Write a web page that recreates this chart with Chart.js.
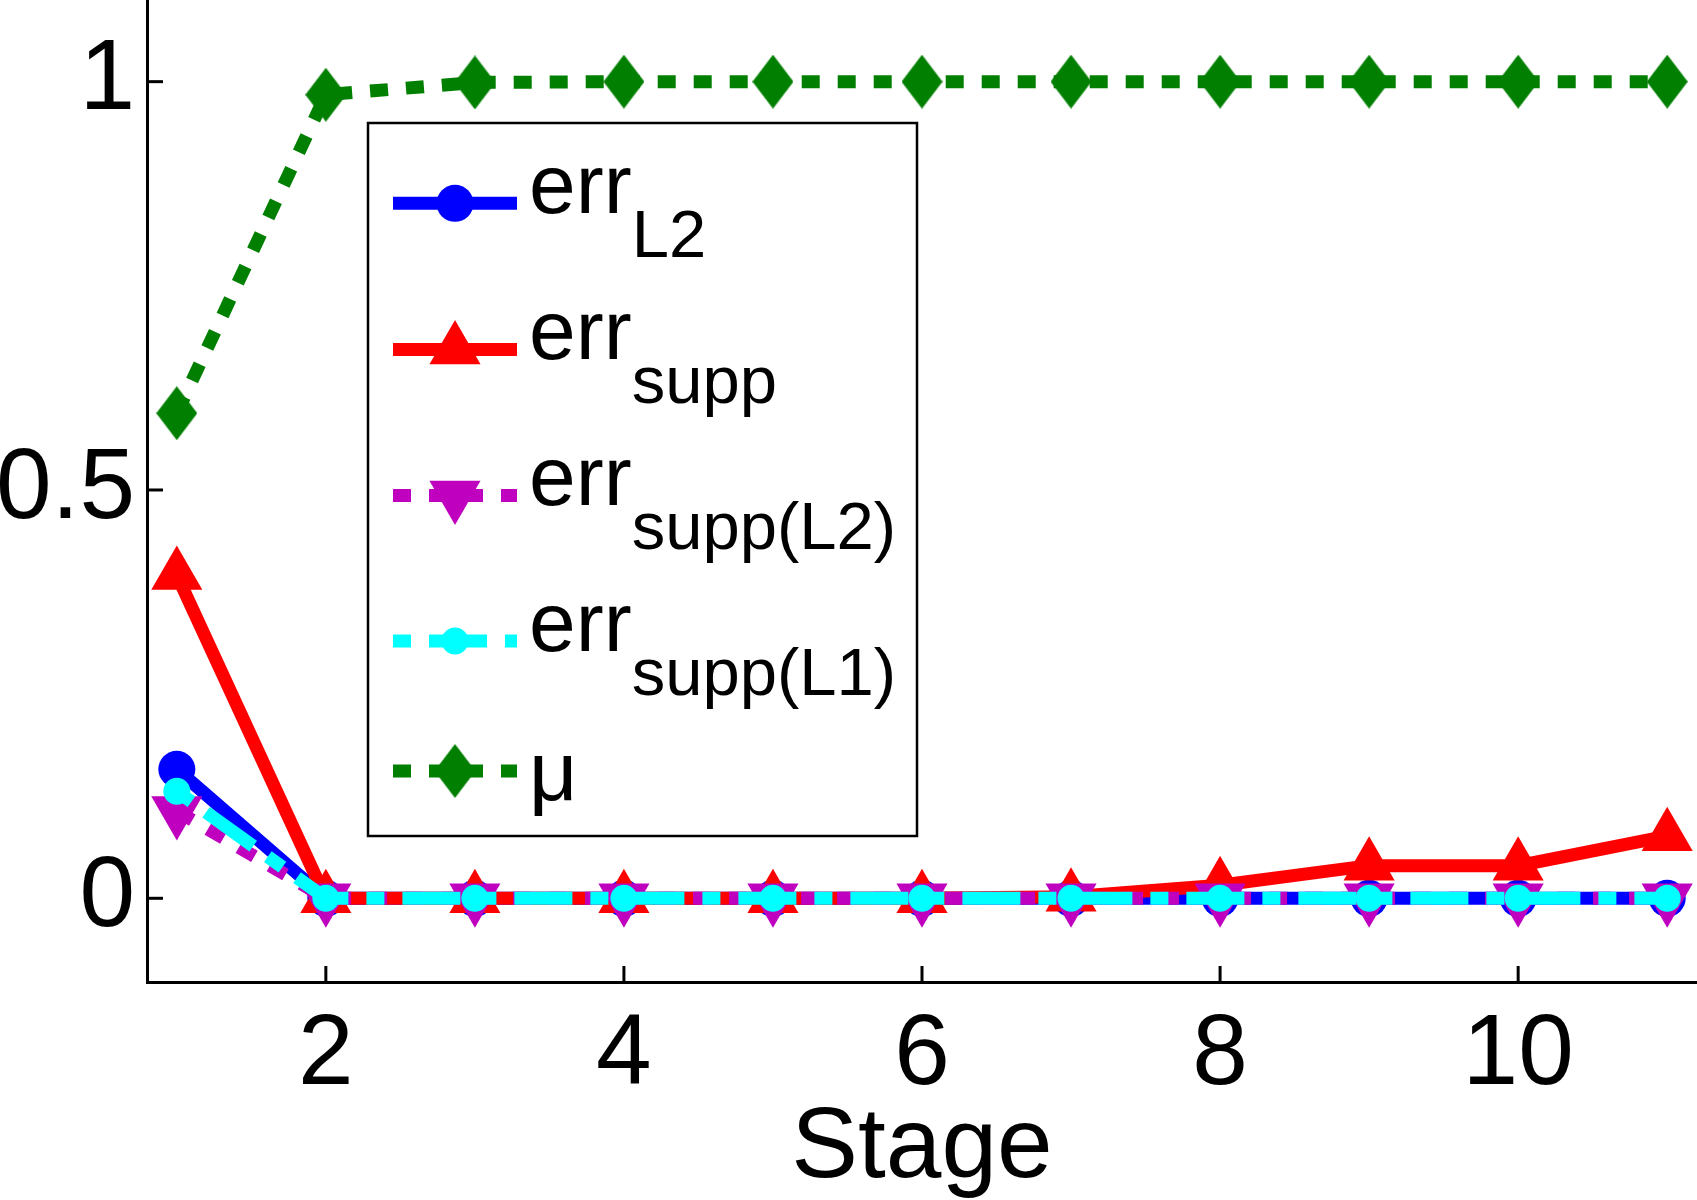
<!DOCTYPE html>
<html>
<head>
<meta charset="utf-8">
<script src="https://cdn.jsdelivr.net/npm/chart.js@4.4.0/dist/chart.umd.min.js"></script>
<style>
  html, body { margin: 0; padding: 0; background: #fff; }
  #wrap { width: 1697px; height: 1200px; }
</style>
</head>
<body>
<div id="wrap"><canvas id="chart" width="1697" height="1200"></canvas></div>
<script>
// values
const stages = [1, 2, 3, 4, 5, 6, 7, 8, 9, 10, 11];
const errL2 = [0.158, 0, 0, 0, 0, 0, 0, 0, 0, 0, 0];
const errSupp = [0.396, 0, 0, 0, 0, 0, 0.002, 0.016, 0.040, 0.040, 0.076];
const errSuppL2 = [0.107, 0, 0, 0, 0, 0, 0, 0, 0, 0, 0];
const errSuppL1 = [0.131, 0, 0, 0, 0, 0, 0, 0, 0, 0, 0];
const mu = [0.594, 0.984, 0.999, 1, 1, 1, 1, 1, 1, 1, 1];

const xTicks = [2, 4, 6, 8, 10];
const yTicks = [0, 0.5, 1];

const legendMain = ['err', 'err', 'err', 'err', 'μ'];
const legendSub = ['L2', 'supp', 'supp(L2)', 'supp(L1)', ''];

const FONT = '"Liberation Sans", Arial, Helvetica, sans-serif';

function pts(vals) {
    return stages.map((s, i) => ({ x: s, y: vals[i] }));
}

// matlab style diamond, taller than wide
function makeDiamond(w, h, color) {
    const c = document.createElement('canvas');
    c.width = w;
    c.height = h;
    const g = c.getContext('2d');
    g.fillStyle = color;
    g.beginPath();
    g.moveTo(w / 2, 0);
    g.lineTo(w, h / 2);
    g.lineTo(w / 2, h);
    g.lineTo(0, h / 2);
    g.closePath();
    g.fill();
    return c;
}

const diamond = makeDiamond(41, 54, '#007f00');

function series(label, vals, color, extra) {
    return Object.assign({
        label: label,
        data: pts(vals),
        borderColor: color,
        backgroundColor: color,
        pointBackgroundColor: color,
        borderWidth: 13,
        pointBorderWidth: 0,
        tension: 0,
        clip: false
    }, extra);
}

const datasets = [
    series('err_L2', errL2, '#0000ff', { pointStyle: 'circle', pointRadius: 18.5, order: 5 }),
    series('err_supp', errSupp, '#ff0000', { pointStyle: 'triangle', pointRadius: 29.5, order: 4 }),
    series('err_supp(L2)', errSuppL2, '#bf00bf', { borderDash: [18, 18], pointStyle: 'triangle', pointRotation: 180, pointRadius: 29.5, order: 3 }),
    series('err_supp(L1)', errSuppL1, '#00ffff', { borderDash: [18, 18, 58, 18], pointStyle: 'circle', pointRadius: 13.5, order: 2 }),
    series('μ', mu, '#007f00', { borderDash: [18, 18], pointStyle: diamond, pointRadius: 27, order: 1 })
];

// ticks point into the plot, like matlab
const inwardTicks = {
    id: 'inwardTicks',
    beforeDatasetsDraw(chart) {
        const { ctx, chartArea, scales } = chart;
        ctx.save();
        ctx.strokeStyle = '#000';
        ctx.lineWidth = 3;
        scales.x.ticks.forEach(t => {
            const px = scales.x.getPixelForValue(t.value);
            ctx.beginPath();
            ctx.moveTo(px, chartArea.bottom);
            ctx.lineTo(px, chartArea.bottom - 16);
            ctx.stroke();
        });
        scales.y.ticks.forEach(t => {
            const py = scales.y.getPixelForValue(t.value);
            ctx.beginPath();
            ctx.moveTo(chartArea.left, py);
            ctx.lineTo(chartArea.left + 16, py);
            ctx.stroke();
        });
        ctx.restore();
    }
};

function drawMarker(ctx, ds, x, y) {
    const r = ds.pointRadius;
    ctx.fillStyle = ds.backgroundColor;
    if (typeof ds.pointStyle !== 'string') {
        const img = ds.pointStyle;
        ctx.drawImage(img, x - img.width / 2, y - img.height / 2);
        return;
    }
    ctx.beginPath();
    if (ds.pointStyle === 'circle') {
        ctx.arc(x, y, r, 0, Math.PI * 2);
    } else {
        const s = ds.pointRotation === 180 ? -1 : 1;
        ctx.moveTo(x, y - s * r);
        ctx.lineTo(x + r * 0.866, y + s * r / 2);
        ctx.lineTo(x - r * 0.866, y + s * r / 2);
        ctx.closePath();
    }
    ctx.fill();
}

// legend with subscripts, drawn by hand
const subLegend = {
    id: 'subLegend',
    afterDraw(chart) {
        const ctx = chart.ctx;
        const box = { x: 368, y: 123, w: 549, h: 713 };
        const rows = [203.3, 349.5, 495.5, 641, 771];
        ctx.save();
        ctx.fillStyle = '#fff';
        ctx.fillRect(box.x, box.y, box.w, box.h);
        ctx.strokeStyle = '#000';
        ctx.lineWidth = 2.5;
        ctx.strokeRect(box.x, box.y, box.w, box.h);

        chart.data.datasets.forEach((ds, i) => {
            const y = rows[i];
            ctx.strokeStyle = ds.borderColor;
            ctx.lineWidth = 13;
            ctx.lineCap = 'butt';
            ctx.setLineDash(ds.borderDash || []);
            ctx.lineDashOffset = 0;
            ctx.beginPath();
            ctx.moveTo(393, y);
            ctx.lineTo(517, y);
            ctx.stroke();
            ctx.setLineDash([]);
            drawMarker(ctx, ds, 455, y);

            ctx.fillStyle = '#000';
            ctx.textBaseline = 'alphabetic';
            ctx.textAlign = 'left';
            ctx.font = '84px ' + FONT;
            const sub = legendSub[i];
            ctx.fillText(legendMain[i], 529, y + (sub ? 9.5 : 29));
            if (sub) {
                const w = ctx.measureText(legendMain[i]).width;
                ctx.font = '67px ' + FONT;
                ctx.fillText(sub, 529 + w, y + 53.5);
            }
        });
        ctx.restore();
    }
};

const config = {
    type: 'line',
    data: { datasets: datasets },
    options: {
        responsive: false,
        devicePixelRatio: 1,
        animation: false,
        events: [],
        layout: { padding: 0, autoPadding: false },
        plugins: {
            legend: { display: false },
            tooltip: { enabled: false }
        },
        scales: {
            x: {
                type: 'linear',
                min: 0.8,
                max: 11.2,
                grid: { display: false, drawTicks: false },
                border: { display: true, color: '#000', width: 3 },
                afterBuildTicks: scale => { scale.ticks = xTicks.map(v => ({ value: v })); },
                afterFit: scale => {
                    scale.height = 218;
                    scale.paddingLeft = 0;
                    scale.paddingRight = 0;
                },
                ticks: {
                    color: '#000',
                    padding: 24,
                    maxRotation: 0,
                    font: { family: FONT, size: 100, lineHeight: 1 },
                    callback: v => String(v)
                },
                title: {
                    display: true,
                    text: 'Stage',
                    color: '#000',
                    font: { family: FONT, size: 100, lineHeight: 1 },
                    padding: { top: 0, bottom: 1 }
                }
            },
            y: {
                min: -0.1025,
                max: 1.1,
                grid: { display: false, drawTicks: false },
                border: { display: true, color: '#000', width: 3 },
                afterBuildTicks: scale => { scale.ticks = yTicks.map(v => ({ value: v })); },
                afterFit: scale => {
                    scale.width = 147;
                    scale.paddingTop = 0;
                    scale.paddingBottom = 0;
                },
                ticks: {
                    color: '#000',
                    padding: 12,
                    font: { family: FONT, size: 100, lineHeight: 1 },
                    callback: v => String(v)
                }
            }
        }
    },
    plugins: [inwardTicks, subLegend]
};

var myChart = new Chart(document.getElementById('chart'), config);
</script>
</body>
</html>
